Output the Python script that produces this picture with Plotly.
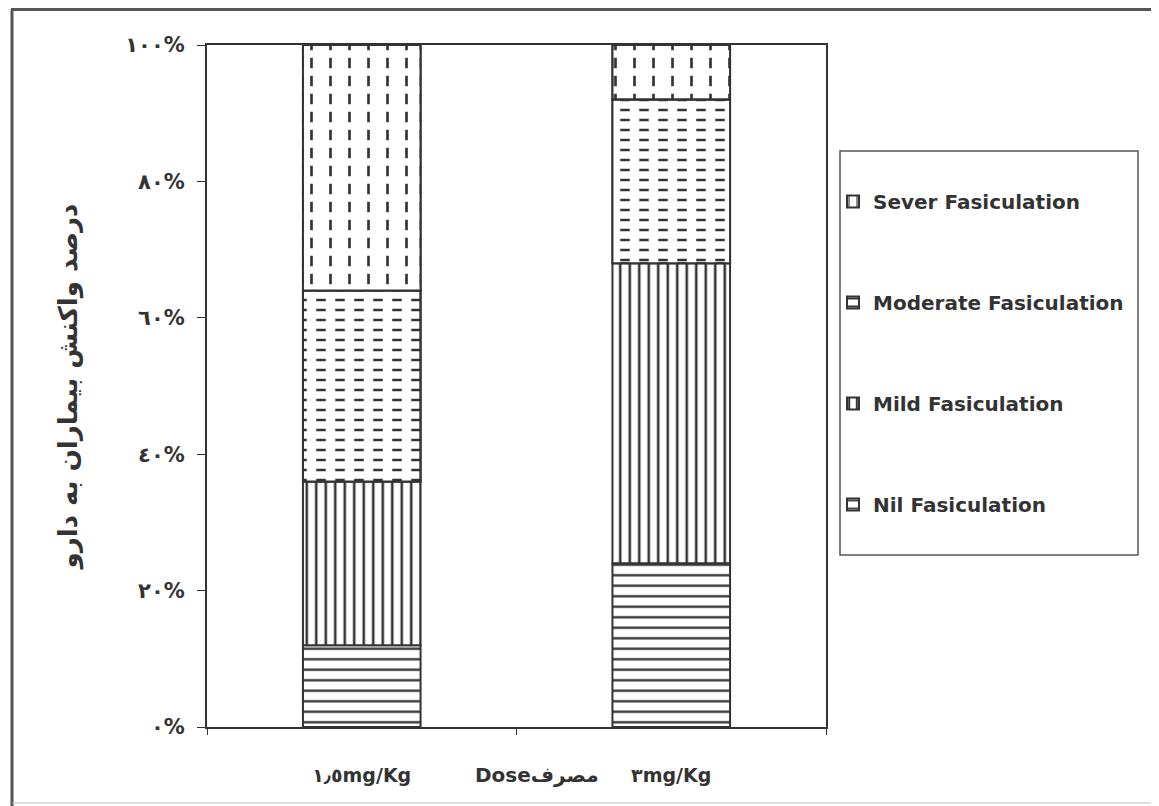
import numpy as np
import plotly.graph_objects as go

# ---------------- data ----------------
categories = ["١٫٥mg/Kg", "٣mg/Kg"]
nil_values = [12, 24]
mild_values = [24, 44]
moderate_values = [28, 24]
severe_values = [36, 8]
series_names = ["Nil Fasiculation", "Mild Fasiculation",
                "Moderate Fasiculation", "Sever Fasiculation"]
y_tickvals = [0, 20, 40, 60, 80, 100]
y_ticktext = ["٠%", "٢٠%", "٤٠%", "٦٠%", "٨٠%", "١٠٠%"]
y_title = "درصد واکنش بیماران به دارو"
x_title = "Doseمصرف"

# ---------------- style ----------------
INK = "#333333"
FONT = "DejaVu Sans"
OFF = 8                      # default body margin of the html page
W, H = 1159, 806             # reference picture size
L, R, T, B = 207, 333, 45, 79
PW, PH = W - L - R, H - T - B


def px_x(px):
    return (px - L) / PW


def px_y(py):
    return (H - B - py) / PH


series_values = [nil_values, mild_values, moderate_values, severe_values]
pat_shape = ["-", "|", "-", "|"]
pat_size = [10.5, 9.5, 10, 19]
pat_solid = [0.22, 0.27, 0.25, 0.14]
cut_pattern = [None, None, ("|", 19, 0.5), ("-", 18, 0.42)]

fig = go.Figure()
bottoms = np.zeros(len(categories))
n = len(series_names)
for i, (name, vals) in enumerate(zip(series_names, series_values)):
    vals = np.array(vals, dtype=float)
    fig.add_trace(go.Bar(
        x=categories, y=vals, base=bottoms.copy(), width=0.38, name=name,
        legendgroup=name, legendrank=n - i,
        marker=dict(color="white", line=dict(color=INK, width=2),
                    pattern=dict(shape=pat_shape[i], size=pat_size[i],
                                 solidity=pat_solid[i], fgcolor=INK,
                                 bgcolor="white", fillmode="replace")),
    ))
    if cut_pattern[i] is not None:
        s, sz, so = cut_pattern[i]
        fig.add_trace(go.Bar(
            x=categories, y=vals, base=bottoms.copy(), width=0.38,
            name=name, legendgroup=name, legendrank=n - i,
            showlegend=False, hoverinfo="skip",
            marker=dict(color="rgba(0,0,0,0)", line=dict(color=INK, width=2),
                        pattern=dict(shape=s, size=sz, solidity=so,
                                     fgcolor="white",
                                     bgcolor="rgba(0,0,0,0)",
                                     fillmode="replace")),
        ))
    bottoms = bottoms + vals

fig.update_layout(
    width=W - OFF, height=H - OFF,
    margin=dict(l=L - OFF, r=R, t=T - OFF, b=B),
    barmode="overlay",
    paper_bgcolor="white", plot_bgcolor="white",
    font=dict(family=FONT, color=INK, size=19, weight="bold"),
    showlegend=True,
    legend=dict(x=px_x(833), y=px_y(182), xanchor="left", yanchor="top",
                traceorder="grouped", tracegroupgap=72,
                bgcolor="rgba(0,0,0,0)", borderwidth=0,
                font=dict(family=FONT, size=20, color=INK, weight="bold")),
    xaxis=dict(showline=True, linecolor=INK, linewidth=2, mirror=True,
               ticks="outside", tickson="boundaries", ticklen=6,
               tickcolor=INK, showgrid=False, ticklabelstandoff=30,
               tickfont=dict(family=FONT, size=19, color=INK, weight="bold")),
    yaxis=dict(range=[0, 100], tickvals=y_tickvals, ticktext=y_ticktext,
               showline=True, linecolor=INK, linewidth=2, mirror=True,
               ticks="outside", ticklen=8, tickcolor=INK, showgrid=False,
               zeroline=False, ticklabelstandoff=8,
               tickfont=dict(family=FONT, size=21, color=INK, weight="bold"),
               title=dict(text=y_title, standoff=40,
                          font=dict(family=FONT, size=26, color=INK,
                                    weight="bold"))),
    annotations=[dict(text=x_title, xref="paper", yref="paper",
                      x=px_x(537), y=px_y(775), xanchor="center",
                      yanchor="middle", showarrow=False,
                      font=dict(family=FONT, size=20, color=INK,
                                weight="bold"))],
    shapes=[
        # legend frame
        dict(type="rect", xref="paper", yref="paper",
             x0=px_x(840), x1=px_x(1138), y0=px_y(555), y1=px_y(151),
             line=dict(color="#555555", width=1.5), fillcolor="rgba(0,0,0,0)"),
        # outer frame of the scanned chart
        dict(type="line", xref="paper", yref="paper",
             x0=px_x(11), x1=px_x(1159), y0=px_y(9), y1=px_y(9),
             line=dict(color="#555555", width=4)),
        dict(type="line", xref="paper", yref="paper",
             x0=px_x(12), x1=px_x(12), y0=px_y(9), y1=px_y(806),
             line=dict(color="#555555", width=3)),
        dict(type="line", xref="paper", yref="paper",
             x0=px_x(12), x1=px_x(1159), y0=px_y(803), y1=px_y(803),
             line=dict(color="#bbbbbb", width=1)),
    ],
)

fig.write_html("out.html")
